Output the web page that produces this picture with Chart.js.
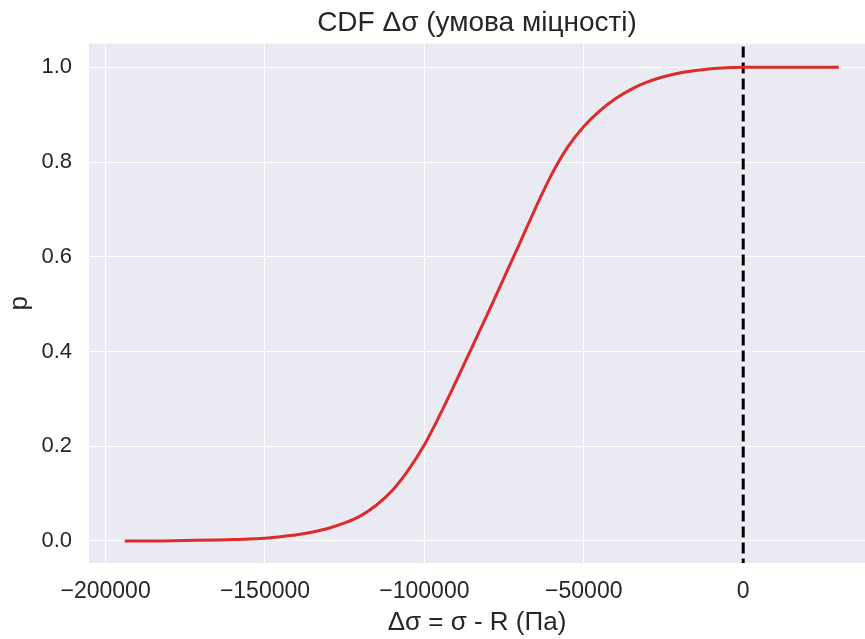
<!DOCTYPE html>
<html>
<head>
<meta charset="utf-8">
<script src="https://cdn.jsdelivr.net/npm/chart.js@4.4.1/dist/chart.umd.min.js"></script>
<style>
  html, body { margin: 0; padding: 0; background: #ffffff; overflow: hidden; }
  #wrap { width: 865px; height: 639px; }
</style>
</head>
<body>
<div id="wrap"><canvas id="cdfChart" width="865" height="639"></canvas></div>
<script>
// values
const deltaSigma = [-194000, -185000, -175000, -165000, -160000, -155000,
  -150000, -145000, -140000, -135000, -130000, -125000, -120000, -115000,
  -110000, -105000, -100000, -95000, -90000, -85000, -80000, -75000,
  -70000, -65000, -60000, -55000, -50000, -45000, -40000, -35000,
  -30000, -25000, -20000, -15000, -10000, -5000, 0, 10000, 20000, 30000];
const probability = [0.000, 0.000, 0.001, 0.002, 0.003, 0.004,
  0.006, 0.009, 0.013, 0.019, 0.027, 0.038, 0.053, 0.076,
  0.107, 0.150, 0.203, 0.268, 0.338, 0.410, 0.482, 0.556,
  0.630, 0.705, 0.775, 0.832, 0.875, 0.908, 0.934, 0.954,
  0.969, 0.980, 0.988, 0.993, 0.997, 0.999, 1.000, 1.000, 1.000, 1.000];
const xTicks = [-200000, -150000, -100000, -50000, 0];
const yTicks = [0, 0.2, 0.4, 0.6, 0.8, 1.0];
const limitX = 0;

const cdfPoints = deltaSigma.map((x, i) => ({ x: x, y: probability[i] }));

const plotBackground = {
  id: 'plotBackground',
  beforeDraw(chart) {
    const { ctx, chartArea } = chart;
    ctx.save();
    ctx.fillStyle = '#eaeaf2';
    ctx.fillRect(chartArea.left, chartArea.top, chartArea.right - chartArea.left, chartArea.bottom - chartArea.top);
    ctx.restore();
  }
};

const textColor = '#262626';
const font = 'Liberation Sans';

new Chart(document.getElementById('cdfChart'), {
  type: 'line',
  data: {
    datasets: [
      {
        data: cdfPoints,
        borderColor: '#dc2b2b',
        borderWidth: 3,
        pointRadius: 0,
        cubicInterpolationMode: 'monotone',
        fill: false
      },
      {
        data: [{ x: limitX, y: -0.06 }, { x: limitX, y: 1.06 }],
        borderColor: '#000000',
        borderWidth: 3,
        borderDash: [11, 5],
        pointRadius: 0,
        fill: false
      }
    ]
  },
  options: {
    responsive: false,
    animation: false,
    layout: { padding: 0 },
    plugins: {
      legend: { display: false },
      tooltip: { enabled: false },
      title: {
        display: true,
        fullSize: false, // centre over the plot, like matplotlib
        text: 'CDF Δσ (умова міцності)',
        color: textColor,
        font: { family: font, size: 28, weight: 'normal' },
        padding: { top: 6, bottom: 4 }
      }
    },
    scales: {
      x: {
        type: 'linear',
        min: -205200,
        max: 38200,
        afterBuildTicks: (scale) => { scale.ticks = xTicks.map(v => ({ value: v })); },
        afterFit: (scale) => { scale.height = 76; },
        border: { display: false },
        grid: { color: '#ffffff', lineWidth: 1, drawTicks: false },
        ticks: {
          color: textColor,
          padding: 15,
          maxRotation: 0,
          font: { family: font, size: 23 },
          callback: (v) => v < 0 ? '\u2212' + Math.abs(v) : String(v)
        },
        title: {
          display: true,
          text: 'Δσ = σ - R (Па)',
          color: textColor,
          font: { family: font, size: 26 },
          padding: { top: 2, bottom: 1 }
        }
      },
      y: {
        type: 'linear',
        min: -0.0465,
        max: 1.05,
        afterBuildTicks: (scale) => { scale.ticks = yTicks.map(v => ({ value: v })); },
        afterFit: (scale) => { scale.width = 89; },
        border: { display: false },
        grid: { color: '#ffffff', lineWidth: 1, drawTicks: false },
        ticks: {
          color: textColor,
          padding: 17,
          font: { family: font, size: 22 },
          callback: (v) => v.toFixed(1)
        },
        title: {
          display: true,
          text: 'p',
          color: textColor,
          font: { family: font, size: 26 },
          padding: { top: 4, bottom: 2 }
        }
      }
    }
  },
  plugins: [plotBackground]
});
</script>
</body>
</html>
